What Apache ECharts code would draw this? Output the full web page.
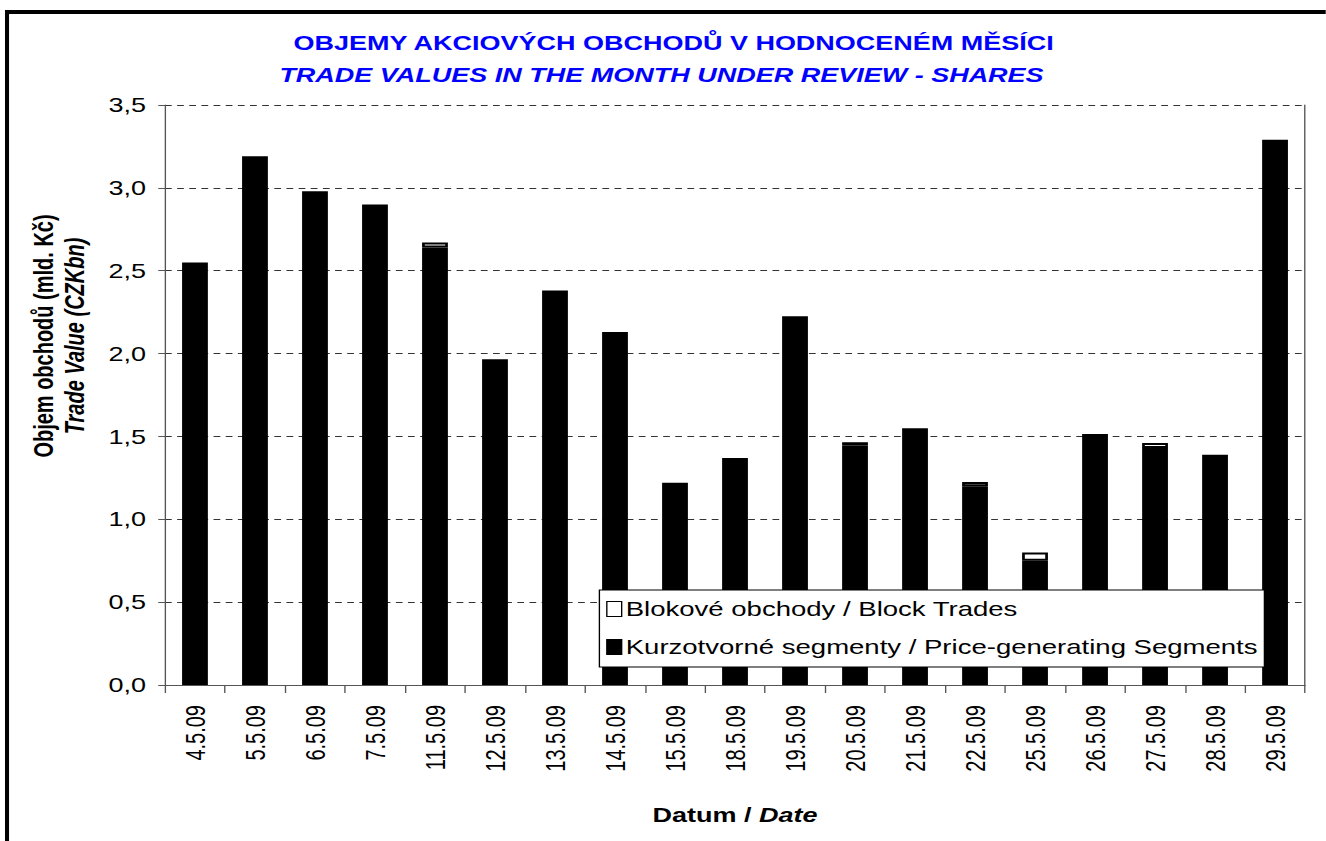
<!DOCTYPE html>
<html>
<head>
<meta charset="utf-8">
<script src="https://cdn.jsdelivr.net/npm/echarts@6/dist/echarts.min.js"></script>
<style>
  html, body { margin: 0; padding: 0; background: #fff; overflow: hidden; }
  /* the original Excel picture is stretched horizontally, so the chart is drawn narrower and widened */
  #main { width: 982px; height: 841px; transform: scaleX(1.35); transform-origin: 0 0; }
</style>
</head>
<body>
<div id="main"></div>
<script>
// dates of the month
const dates = ['4.5.09', '5.5.09', '6.5.09', '7.5.09', '11.5.09', '12.5.09', '13.5.09', '14.5.09',
  '15.5.09', '18.5.09', '19.5.09', '20.5.09', '21.5.09', '22.5.09', '25.5.09', '26.5.09',
  '27.5.09', '28.5.09', '29.5.09'];

// Kurzotvorné segmenty / Price-generating Segments (mld. Kč)
const priceSegments = [2.55, 3.19, 2.98, 2.90, 2.64, 1.965, 2.38, 2.13, 1.22, 1.37, 2.225,
  1.445, 1.55, 1.20, 0.75, 1.515, 1.43, 1.39, 3.29];

// Blokové obchody / Block Trades (mld. Kč)
const blockTrades = [0, 0, 0, 0, 0.03, 0, 0, 0, 0, 0, 0, 0.02, 0, 0.025, 0.05, 0, 0.03, 0, 0];

const yMin = 0, yMax = 3.5, yStep = 0.5;

const titleCz = 'OBJEMY AKCIOVÝCH OBCHODŮ V HODNOCENÉM MĚSÍCI';
const titleEn = 'TRADE VALUES IN THE MONTH UNDER REVIEW - SHARES';

const font = 'Arial, "Liberation Sans", sans-serif';
const axisGrey = '#555';

let chart = echarts.init(document.getElementById('main'), null, { renderer: 'svg' });

let option = {
  animation: false,
  textStyle: { fontFamily: font, color: '#000' },
  title: [
    {
      text: titleCz, left: 499, top: 33, padding: 0, textAlign: 'center',
      textStyle: { fontFamily: font, fontSize: 20, fontWeight: 'bold', color: '#0000ff' }
    },
    {
      text: titleEn, left: 490, top: 65, padding: 0, textAlign: 'center',
      textStyle: { fontFamily: font, fontSize: 20, fontWeight: 'bold', fontStyle: 'italic', color: '#0000ff' }
    }
  ],
  legend: {
    orient: 'vertical',
    left: 444,
    top: 590,
    padding: [9, 5, 10, 5],
    itemGap: 18,
    itemWidth: 11,
    itemHeight: 15,
    backgroundColor: '#fff',
    borderColor: '#000',
    borderWidth: 1,
    borderRadius: 0,
    icon: 'rect',
    itemStyle: { borderColor: '#000', borderWidth: 1 },
    textStyle: { fontFamily: font, fontSize: 20.4, color: '#000', padding: [0, 0, 0, -2] },
    data: ['Blokové obchody / Block Trades', 'Kurzotvorné segmenty / Price-generating Segments']
  },
  grid: { left: 122.2, right: 15.3, top: 105, bottom: 156 },
  xAxis: {
    type: 'category',
    data: dates,
    name: '{b|Datum / }{bi|Date}',
    nameLocation: 'middle',
    nameGap: 120,
    nameTextStyle: {
      rich: {
        b: { fontFamily: font, fontSize: 20, fontWeight: 'bold', color: '#000' },
        bi: { fontFamily: font, fontSize: 20, fontWeight: 'bold', fontStyle: 'italic', color: '#000' }
      }
    },
    axisLine: { lineStyle: { color: axisGrey, width: 1 } },
    axisTick: { show: true, length: 8, lineStyle: { color: axisGrey } },
    axisLabel: { rotate: 90, margin: 20, fontFamily: font, fontSize: 20, color: '#000', interval: 0 },
    splitLine: { show: false }
  },
  yAxis: [
    {
      type: 'value',
      min: yMin, max: yMax, interval: yStep,
      axisLine: { show: true, lineStyle: { color: axisGrey, width: 1 } },
      axisTick: { show: true, length: 5, lineStyle: { color: axisGrey } },
      axisLabel: {
        margin: 14, fontFamily: font, fontSize: 20, color: '#000',
        formatter: v => v.toFixed(1).replace('.', ',')
      },
      splitLine: { show: true, lineStyle: { color: '#333', type: [5, 4], width: 1 } }
    },
    {
      // right edge of the plot area
      type: 'value',
      position: 'right',
      min: yMin, max: yMax, interval: yStep,
      axisLine: { show: true, lineStyle: { color: axisGrey, width: 1 } },
      axisTick: { show: false },
      axisLabel: { show: false },
      splitLine: { show: false }
    }
  ],
  graphic: [
    // chart frame (top and left edge visible)
    { type: 'rect', left: 3.7, top: 10, shape: { width: 1100, height: 4 }, style: { fill: '#000' }, silent: true },
    { type: 'rect', left: 3.7, top: 10, shape: { width: 3, height: 900 }, style: { fill: '#000' }, silent: true },
    // y axis title, two lines
    {
      type: 'text', x: 31.9, y: 336, rotation: Math.PI / 2,
      style: { text: 'Objem obchodů (mld. Kč)', fontFamily: font, fontSize: 20, fontWeight: 'bold',
        fill: '#000', align: 'center', verticalAlign: 'middle' }
    },
    {
      type: 'text', x: 55.3, y: 336, rotation: Math.PI / 2,
      style: { text: 'Trade Value (CZKbn)', fontFamily: font, fontSize: 20, fontWeight: 'bold',
        fontStyle: 'italic', fill: '#000', align: 'center', verticalAlign: 'middle' }
    }
  ],
  series: [
    {
      name: 'Kurzotvorné segmenty / Price-generating Segments',
      type: 'bar',
      stack: 'total',
      barWidth: '43%',
      itemStyle: { color: '#000', borderColor: '#000', borderWidth: 0 },
      data: priceSegments
    },
    {
      name: 'Blokové obchody / Block Trades',
      type: 'bar',
      stack: 'total',
      barWidth: '43%',
      itemStyle: { color: '#fff', borderColor: '#000', borderWidth: 2 },
      data: blockTrades.map(v => (v > 0 ? v : '-'))
    }
  ]
};

chart.setOption(option);
</script>
</body>
</html>
